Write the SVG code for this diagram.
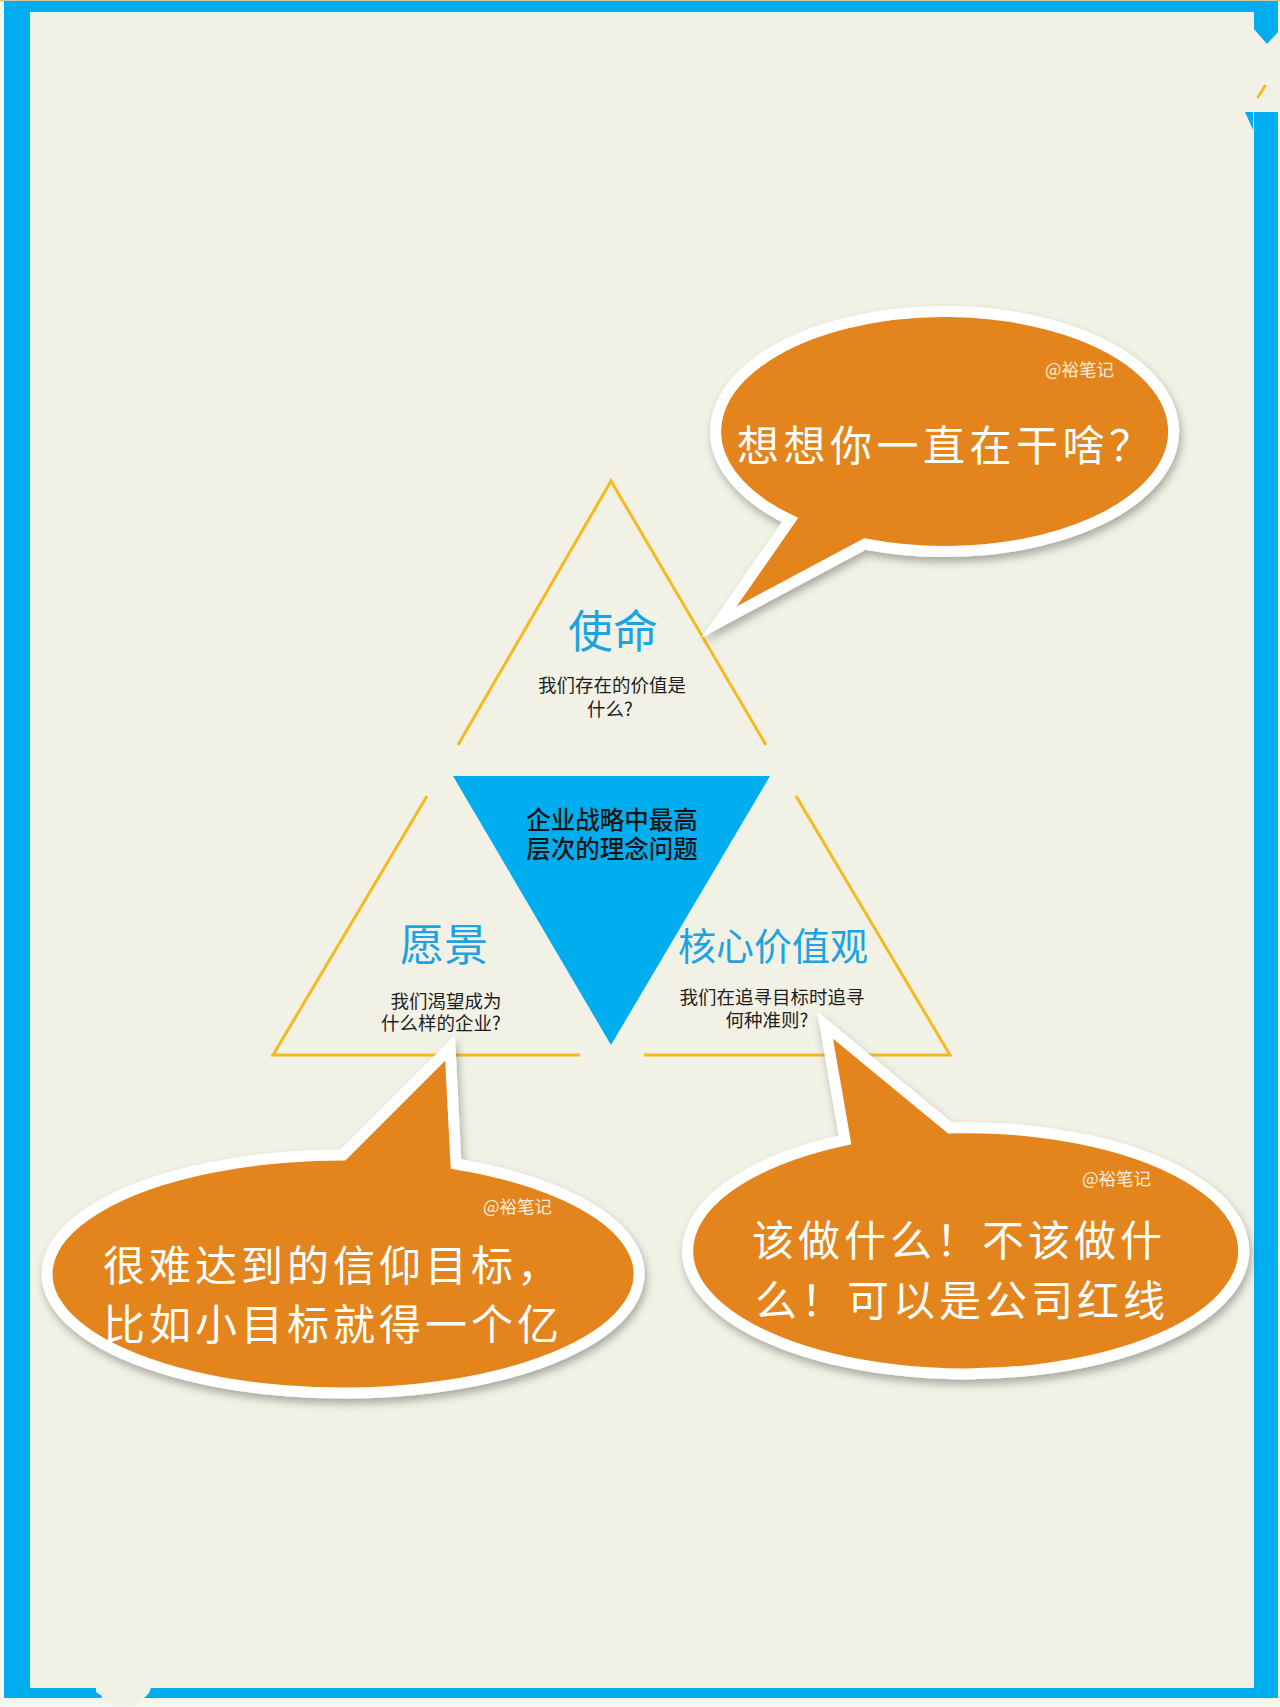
<svg xmlns="http://www.w3.org/2000/svg" width="1280" height="1707" viewBox="0 0 1280 1707">
<style>
.page{fill:#F7F7F2}
.blue{fill:#00AEEF}
.cream{fill:#F2F1E6}
.tri{fill:none;stroke:#F5BA1F;stroke-width:3}
.core{fill:#00AEEF}
.cjk{font-family:"Noto Sans CJK SC","Noto Sans",sans-serif}
.title{fill:#1DA3DD;text-anchor:middle}
.sub{font-size:18.5px;fill:#1E1E1E;text-anchor:middle}
.center{font-size:24.5px;fill:#161616;text-anchor:middle;font-weight:500}
.bubble{fill:#E3841A;stroke:#FFFFFF;stroke-width:11;stroke-linejoin:miter;stroke-miterlimit:20;filter:url(#shadow)}
.hand{font-size:42px;fill:#FFFFFF;letter-spacing:4px}
.sig{font-size:17.5px;fill:#FAEBD9}
</style>
<defs>
<filter id="shadow" x="-10%" y="-15%" width="125%" height="140%">
<feDropShadow dx="2" dy="5" stdDeviation="4" flood-color="#000000" flood-opacity="0.3"/>
</filter>
</defs>

<g id="frame">
<rect class="page" x="0" y="0" width="1280" height="1707"/>
<rect x="0" y="0" width="1280" height="1.5" fill="#CFCBA0"/>
<rect class="blue" x="4" y="1" width="1274" height="1697"/>
<rect class="cream" x="30" y="12" width="1224" height="1676"/>
<polygon class="cream" points="1253,28 1267,44 1280,30 1280,112 1253,112"/>
<polygon class="blue" points="1245,112 1253,112 1253,130"/>
<line x1="1258" y1="97" x2="1265" y2="86" stroke="#F5BA1F" stroke-width="3" stroke-linecap="round"/>
<polygon class="cream" points="96,1688 151,1688 149,1693 143,1699 138,1705 122,1707 100,1702 102,1696 96,1692"/>
</g>

<g id="triangle-outline">
<polyline class="tri" points="458,745 611,481 766,745"/>
<polyline class="tri" points="427,796 273,1055 580,1055"/>
<polyline class="tri" points="796,796 950,1055 644,1055"/>
</g>

<g id="node-mission">
<text class="cjk title" x="613" y="648" font-size="45">使命</text>
<text class="cjk sub" x="612" y="692">我们存在的价值是</text>
<text class="cjk sub" x="610" y="716">什么?</text>
</g>

<g id="node-core">
<polygon class="core" points="453,776 770,776 611,1045"/>
<text class="cjk center" x="612" y="829">企业战略中最高</text>
<text class="cjk center" x="612" y="858">层次的理念问题</text>
</g>

<g id="node-vision">
<text class="cjk title" x="444" y="961" font-size="44">愿景</text>
<text class="cjk sub" x="446" y="1008">我们渴望成为</text>
<text class="cjk sub" x="441" y="1030">什么样的企业?</text>
</g>

<g id="node-values">
<text class="cjk title" x="773" y="960" font-size="38">核心价值观</text>
<text class="cjk sub" x="772" y="1004">我们在追寻目标时追寻</text>
<text class="cjk sub" x="767" y="1027">何种准则?</text>
</g>

<g id="bubble-mission">
<path class="bubble" d="M790,520 L719,622 L865,544 A229,120 0 1 0 790,520 Z"/>
<text class="cjk sig" x="1045" y="376">@裕笔记</text>
<text class="cjk hand" x="737" y="461" style="letter-spacing:4.5px">想想你一直在干啥？</text>
</g>

<g id="bubble-vision">
<path class="bubble" d="M343,1155 L450,1048 L456,1164 A296,119 0 1 1 343,1155 Z"/>
<text class="cjk sig" x="483" y="1213">@裕笔记</text>
<text class="cjk hand" x="103" y="1281">很难达到的信仰目标，</text>
<text class="cjk hand" x="103" y="1340">比如小目标就得一个亿</text>
</g>

<g id="bubble-values">
<path class="bubble" d="M845,1140 L825,1025 L950,1128 A278,123 0 1 1 845,1140 Z"/>
<text class="cjk sig" x="1082" y="1185">@裕笔记</text>
<text class="cjk hand" x="752" y="1256">该做什么！不该做什</text>
<text class="cjk hand" x="755" y="1316">么！可以是公司红线</text>
</g>
</svg>
